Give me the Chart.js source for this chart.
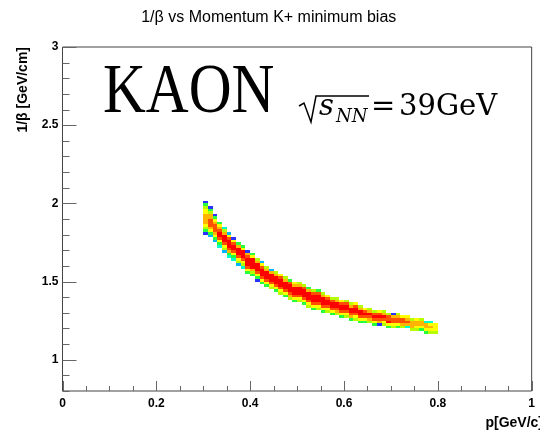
<!DOCTYPE html>
<html>
<head>
<meta charset="utf-8">
<script src="https://cdn.jsdelivr.net/npm/chart.js@4.4.1/dist/chart.umd.min.js"></script>
<style>
  html, body { margin: 0; padding: 0; background: #fff; }
</style>
</head>
<body>
<canvas id="chart" width="540" height="432"></canvas>
<script>
// histogram binning (p in GeV/c, 1/beta)
const pStart = 0.30;
const pBin = 0.01;
const yBin = 1 / 60;

// first (lowest) 1/beta bin index of each p column, and the colour level
// of each filled cell going up from there (1 = few entries ... 9 = most)
const colFirstBin = [
  108, 107, 105, 103, 101, 99, 98, 96, 95, 93,
  92, 90, 89, 88, 87, 86, 85, 84, 83, 82,
  82, 81, 80, 79, 79, 78, 78, 77, 77, 76,
  76, 75, 75, 74, 74, 74, 73, 73, 73, 72,
  72, 72, 72, 72, 71, 71, 71, 70, 70, 70
];
const colLevels = [
  '1456777766541', '246788877541', '24678887641', '3468998764', '2568999753',
  '3478999862', '346899861', '256899974', '356899964', '468999871',
  '457999964', '146899975', '468999862', '46899975', '56899972',
  '46899975', '56899986', '46899975', '57899984', '46899976',
  '56899975', '46899985', '56899974', '46899985', '56899984',
  '46899975', '5689986', '4689985', '5789975', '4689986',
  '5689985', '4789975', '5689986', '4689975', '468986',
  '578975', '468985', '178986', '568975', '469885',
  '568871', '468875', '57886', '37876', '57775',
  '56776', '46775', '46773', '56763', '5666'
];

const palette = ['#ffffff', '#2832ff', '#00b4ff', '#00ffc8', '#28ff3c', '#b4ff00',
                 '#ffff00', '#ffb400', '#ff5000', '#ff0000'];

const xMajor = [0, 0.2, 0.4, 0.6, 0.8, 1];
const yMajor = [1, 1.5, 2, 2.5, 3];

const cells = [];
colLevels.forEach((col, i) => {
  [...col].forEach((c, j) => {
    cells.push({ x: pStart + i * pBin, y: (colFirstBin[i] + j) * yBin, lvl: +c });
  });
});

const cellPlugin = {
  id: 'cells',
  beforeDatasetsDraw(chart) {
    const { ctx, chartArea, scales: { x, y } } = chart;
    ctx.save();
    ctx.beginPath();
    ctx.rect(chartArea.left, chartArea.top, chartArea.right - chartArea.left, chartArea.bottom - chartArea.top);
    ctx.clip();
    chart.data.datasets[0].data.forEach(c => {
      const x0 = Math.round(x.getPixelForValue(c.x));
      const x1 = Math.round(x.getPixelForValue(c.x + pBin));
      const y0 = Math.round(y.getPixelForValue(c.y + yBin));
      const y1 = Math.round(y.getPixelForValue(c.y));
      ctx.fillStyle = palette[c.lvl];
      ctx.fillRect(x0, y0, x1 - x0, y1 - y0);
    });
    ctx.restore();
  }
};

const framePlugin = {
  id: 'frame',
  afterDraw(chart) {
    const { ctx, chartArea: a, scales: { x, y } } = chart;
    ctx.save();
    ctx.strokeStyle = '#444';
    ctx.lineWidth = 1;
    ctx.beginPath();
    ctx.moveTo(a.left, a.top);
    ctx.lineTo(a.right, a.top);
    ctx.lineTo(a.right, a.bottom);
    ctx.lineTo(a.left, a.bottom);
    ctx.closePath();
    ctx.stroke();

    // ticks point into the frame
    ctx.strokeStyle = '#666';
    ctx.beginPath();
    for (let v = 0.8; v <= 3.0001; v += 0.1) {
      const py = Math.round(y.getPixelForValue(v)) + 0.5;
      const len = yMajor.some(m => Math.abs(m - v) < 1e-6) ? 14 : 7;
      ctx.moveTo(a.left, py);
      ctx.lineTo(a.left + len, py);
    }
    for (let v = 0; v <= 1.0001; v += 0.05) {
      const px = Math.round(x.getPixelForValue(v)) + 0.5;
      const len = xMajor.some(m => Math.abs(m - v) < 1e-6) ? 10 : 5;
      ctx.moveTo(px, a.bottom);
      ctx.lineTo(px, a.bottom - len);
    }
    ctx.stroke();

    // axis titles
    ctx.fillStyle = '#000';
    ctx.font = 'bold 14px "Liberation Sans", Arial, sans-serif';
    ctx.textAlign = 'right';
    ctx.textBaseline = 'alphabetic';
    ctx.fillText('p[GeV/c]', 543, 427);
    ctx.save();
    ctx.translate(23, a.top);
    ctx.rotate(-Math.PI / 2);
    ctx.textBaseline = 'middle';
    ctx.font = 'bold 14px "Liberation Sans", Arial, sans-serif';
    ctx.fillText('1/β [GeV/cm]', 0, 0);
    ctx.restore();

    // labels pasted on the plot
    ctx.textAlign = 'left';
    ctx.save();
    ctx.translate(103, 112);
    ctx.scale(0.86, 1);
    ctx.font = '69px "Liberation Serif", serif';
    ctx.fillText('KAON', 0, 0);
    ctx.restore();

    ctx.lineWidth = 1.5;
    ctx.strokeStyle = '#000';
    ctx.beginPath();
    ctx.moveTo(299, 106);
    ctx.lineTo(304, 103);
    ctx.lineTo(311, 122);
    ctx.lineTo(316, 96);
    ctx.lineTo(369, 96);
    ctx.stroke();
    ctx.font = 'italic 29px "DejaVu Serif", serif';
    ctx.fillText('s', 319, 115);
    ctx.font = 'italic 18px "DejaVu Serif", serif';
    ctx.fillText('NN', 336, 122);
    ctx.font = '29px "DejaVu Serif", serif';
    ctx.fillText('=', 371, 115);
    ctx.fillText('39GeV', 399, 115);
    ctx.restore();
  }
};

const tickFont = { family: '"Liberation Sans", Arial, sans-serif', size: 12, weight: 'bold' };

new Chart(document.getElementById('chart'), {
  type: 'scatter',
  data: {
    datasets: [{
      data: cells,
      pointRadius: 0,
      pointHoverRadius: 0
    }]
  },
  options: {
    responsive: false,
    animation: false,
    events: [],
    layout: { autoPadding: false, padding: { left: 0, right: 2.5, top: 0, bottom: 0 } },
    plugins: {
      legend: { display: false },
      tooltip: { enabled: false },
      title: {
        display: true,
        text: '1/β vs Momentum K+ minimum bias',
        color: '#000',
        font: { family: '"Liberation Sans", Arial, sans-serif', size: 16, weight: 'normal' },
        padding: { top: 8, bottom: 19.8 }
      }
    },
    scales: {
      x: {
        type: 'linear',
        min: 0,
        max: 1,
        grid: { display: false, drawTicks: false },
        border: { display: false },
        afterBuildTicks: s => { s.ticks = xMajor.map(v => ({ value: v })); },
        afterFit: s => { s.height = 41; },
        ticks: { color: '#000', font: tickFont, padding: 5, maxRotation: 0, callback: v => String(v) }
      },
      y: {
        type: 'linear',
        min: 0.8,
        max: 3,
        grid: { display: false, drawTicks: false },
        border: { display: false },
        afterBuildTicks: s => { s.ticks = yMajor.map(v => ({ value: v })); },
        afterFit: s => { s.width = 62.5; },
        ticks: { color: '#000', font: tickFont, padding: 4, callback: v => String(v) }
      }
    }
  },
  plugins: [cellPlugin, framePlugin]
});
</script>
</body>
</html>
